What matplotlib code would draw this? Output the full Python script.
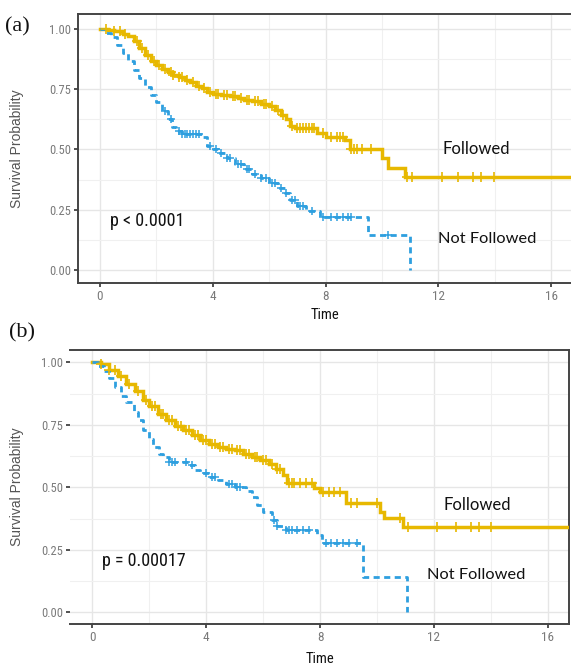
import numpy as np
import matplotlib
matplotlib.use("Agg")
import matplotlib.pyplot as plt
from matplotlib.ticker import MultipleLocator
from matplotlib import font_manager

GOLD = "#E7B800"
BLUE = "#2E9FDF"

# ---------------- data: panel (a) ----------------
a_fol_t = [0, 0.3, 0.5, 0.8, 1.0, 1.2, 1.4, 1.6, 1.8, 2.0, 2.2, 2.4, 2.6, 2.8, 3.0, 3.2, 3.4, 3.6,
           3.8, 4.0, 4.3, 4.6, 4.9, 5.1, 5.4, 5.7, 6.0, 6.2, 6.4, 6.6, 6.75, 6.9, 7.7, 8.03, 8.7,
           8.85, 10.0, 10.2, 10.83, 17.0]
a_fol_s = [1.0, 0.995, 0.99, 0.98, 0.97, 0.95, 0.92, 0.89, 0.865, 0.85, 0.835, 0.82, 0.81, 0.80,
           0.79, 0.78, 0.765, 0.755, 0.74, 0.73, 0.725, 0.72, 0.715, 0.705, 0.70, 0.69, 0.68, 0.665,
           0.645, 0.625, 0.598, 0.588, 0.567, 0.553, 0.539, 0.502, 0.463, 0.425, 0.385, 0.385]
a_fol_cens = [0.2, 0.5, 0.7, 0.9, 1.3, 1.5, 1.7, 1.9, 2.1, 2.3, 2.5, 2.6, 2.8, 2.9, 3.1, 3.3, 3.5,
              3.7, 3.9, 4.1, 4.2, 4.4, 4.5, 4.7, 4.8, 5.0, 5.2, 5.3, 5.5, 5.6, 5.8, 5.9, 6.1, 6.3,
              6.5, 6.8, 7.0, 7.1, 7.2, 7.3, 7.4, 7.5, 7.6, 7.9, 8.2, 8.4, 8.5, 8.6, 8.9, 9.0, 9.1,
              9.3, 9.6, 10.9, 11.07, 12.12, 12.7, 13.22, 13.52, 13.98]

a_not_t = [0, 0.2, 0.4, 0.6, 0.8, 1.0, 1.2, 1.4, 1.6, 1.8, 2.0, 2.2, 2.4, 2.55, 2.7, 2.9, 3.6, 3.8,
           4.0, 4.2, 4.5, 4.8, 5.1, 5.4, 5.7, 6.0, 6.3, 6.55, 6.75, 7.0, 7.3, 7.8, 9.5, 11.0]
a_not_s = [1.0, 0.985, 0.965, 0.935, 0.90, 0.865, 0.83, 0.795, 0.76, 0.726, 0.695, 0.66, 0.625,
           0.595, 0.575, 0.565, 0.55, 0.515, 0.50, 0.485, 0.465, 0.44, 0.42, 0.40, 0.38, 0.36,
           0.34, 0.32, 0.29, 0.265, 0.245, 0.221, 0.145, 0.0]
a_not_cens = [2.3, 2.5, 2.8, 2.9, 3.0, 3.1, 3.2, 3.3, 3.4, 3.5, 3.9, 4.1, 4.3, 4.5, 4.6, 4.9, 5.0,
              5.2, 5.3, 5.5, 5.7, 5.9, 6.1, 6.2, 6.4, 6.6, 6.8, 6.9, 7.1, 7.2, 7.5, 7.9, 8.2, 8.4,
              8.6, 8.8, 8.9, 10.2]

# ---------------- data: panel (b) ----------------
b_fol_t = [0, 0.3, 0.6, 0.9, 1.2, 1.5, 1.8, 2.0, 2.3, 2.6, 2.9, 3.2, 3.5, 3.8, 4.1, 4.4, 4.7, 5.0,
           5.3, 5.6, 5.9, 6.2, 6.45, 6.7, 6.85, 7.8, 8.0, 8.9, 10.1, 10.25, 10.9, 17.0]
b_fol_s = [1.0, 0.995, 0.97, 0.945, 0.915, 0.885, 0.85, 0.825, 0.795, 0.77, 0.745, 0.73, 0.71,
           0.69, 0.675, 0.663, 0.655, 0.648, 0.635, 0.622, 0.61, 0.595, 0.575, 0.548, 0.516,
           0.496, 0.483, 0.436, 0.40, 0.376, 0.34, 0.34]
b_fol_cens = [0.3, 0.6, 0.8, 1.0, 1.3, 1.6, 1.9, 2.1, 2.2, 2.4, 2.5, 2.7, 2.8, 3.0, 3.1, 3.3, 3.4,
              3.6, 3.7, 3.9, 4.0, 4.2, 4.3, 4.5, 4.6, 4.8, 4.9, 5.1, 5.2, 5.4, 5.5, 5.7, 5.8, 6.0,
              6.1, 6.3, 6.5, 6.6, 6.9, 7.0, 7.1, 7.3, 7.5, 7.7, 8.1, 8.3, 8.5, 8.7, 9.1, 9.3, 10.0,
              10.8, 11.1, 12.1, 12.76, 13.29, 13.58, 13.99]

b_not_t = [0, 0.2, 0.4, 0.6, 0.8, 1.0, 1.2, 1.45, 1.6, 1.8, 2.0, 2.15, 2.35, 2.5, 2.7, 3.4, 3.6,
           3.8, 4.1, 4.4, 4.7, 5.0, 5.4, 5.6, 5.8, 6.0, 6.3, 6.5, 6.8, 7.9, 8.08, 9.5, 11.06]
b_not_s = [1.0, 0.985, 0.965, 0.936, 0.90, 0.865, 0.84, 0.80, 0.77, 0.73, 0.695, 0.663, 0.635,
           0.62, 0.60, 0.59, 0.57, 0.556, 0.54, 0.53, 0.515, 0.50, 0.485, 0.46, 0.43, 0.40, 0.37,
           0.345, 0.33, 0.31, 0.276, 0.14, 0.0]
b_not_cens = [2.7, 2.8, 2.9, 3.3, 3.5, 4.0, 4.2, 4.3, 4.8, 4.9, 5.1, 5.2, 6.4, 6.5, 6.8, 6.9, 7.0,
              7.2, 7.4, 7.6, 8.2, 8.4, 8.6, 8.8, 9.0, 9.3]

x_ticks = [0, 4, 8, 12, 16]
y_ticks = [0.0, 0.25, 0.5, 0.75, 1.0]
y_ticklabels = ["0.00", "0.25", "0.50", "0.75", "1.00"]

_installed = {f.name for f in font_manager.fontManager.ttflist}
NARROW = [f for f in ["Roboto Condensed", "Liberation Sans Narrow", "Open Sans Condensed",
                      "Liberation Sans", "DejaVu Sans"] if f in _installed]
CAL = ["Lato", "DejaVu Sans"]

W, H = 571, 668


def step_value(times, surv, t):
    times = np.asarray(times)
    surv = np.asarray(surv)
    idx = np.searchsorted(times, t, side="right") - 1
    return surv[idx]


def draw_panel(ax, fol_t, fol_s, fol_c, not_t, not_s, not_c, ptext, ptxt_xy,
               fol_xy, not_xy, ylim, spines_on, xlabelpad, ylabel_x):
    ax.set_facecolor("white")
    ax.xaxis.set_minor_locator(MultipleLocator(2))
    ax.yaxis.set_minor_locator(MultipleLocator(0.125))
    ax.grid(which="major", color="#E6E6E6", lw=1.0, zorder=0)
    ax.grid(which="minor", color="#F0F0F0", lw=0.8, zorder=0)
    ax.tick_params(which="minor", length=0)

    ax.plot(fol_t, fol_s, drawstyle="steps-post", color=GOLD, lw=2.5, zorder=3,
            solid_joinstyle="miter")
    ax.plot(not_t, not_s, drawstyle="steps-post", color=BLUE, lw=2.0,
            linestyle=(0, (2.2, 1.6)), zorder=3)
    ax.plot(fol_c, step_value(fol_t, fol_s, fol_c), "+", color=GOLD, ms=6.5, mew=1.2, zorder=4)
    ax.plot(not_c, step_value(not_t, not_s, not_c), "+", color=BLUE, ms=6, mew=1.1, zorder=4)

    ax.set_xlim(-0.78, 16.74)
    ax.set_ylim(*ylim)
    ax.set_xticks(x_ticks)
    ax.set_xticklabels([str(v) for v in x_ticks], family=NARROW, fontsize=9.5, color="#7A7A7A")
    ax.set_yticks(y_ticks)
    ax.set_yticklabels(y_ticklabels, family=NARROW, fontsize=9, color="#7A7A7A")
    ax.tick_params(which="major", length=3, width=1.2, color="#333333", pad=2)

    for side, on in spines_on.items():
        ax.spines[side].set_visible(on)
        ax.spines[side].set_color("#444444")
        ax.spines[side].set_linewidth(1.4)

    ax.set_xlabel("Time", family=NARROW, fontsize=10.5, color="#111111", labelpad=xlabelpad)
    ax.set_ylabel("Survival Probability", family=["Liberation Sans", "DejaVu Sans"],
                  fontsize=10, color="#555555")
    bb = ax.get_position()
    ax.yaxis.set_label_coords((ylabel_x / W - bb.x0) / bb.width, 0.5)

    ax.text(*ptxt_xy, ptext, family=NARROW, fontsize=13, color="#111111",
            ha="left", va="center")
    ax.text(*fol_xy, "Followed", family=CAL, fontsize=12, color="#111111",
            ha="left", va="center")
    ax.text(*not_xy, "Not Followed", family=CAL, fontsize=11.8, color="#111111",
            ha="left", va="center")


fig = plt.figure(figsize=(W / 100, H / 100), dpi=100)
fig.patch.set_facecolor("white")

# panel (a)
ax_a = fig.add_axes([78 / W, 1 - 283 / H, (571 - 78) / W, (283 - 14) / H])
draw_panel(ax_a, a_fol_t, a_fol_s, a_fol_cens, a_not_t, a_not_s, a_not_cens,
           "p < 0.0001", (0.35, 0.205), (12.15, 0.50), (12.0, 0.13), (-0.054, 1.062),
           {"left": True, "bottom": True, "top": True, "right": False}, 4, 24)
ax_a.set_xlim(-0.78, 16.7)

# panel (b)
ax_b = fig.add_axes([70 / W, 1 - 624 / H, (569 - 70) / W, (624 - 350) / H])
draw_panel(ax_b, b_fol_t, b_fol_s, b_fol_cens, b_not_t, b_not_s, b_not_cens,
           "p = 0.00017", (0.34, 0.206), (12.35, 0.43), (11.77, 0.15), (-0.047, 1.049),
           {"left": False, "bottom": True, "top": True, "right": True}, 6, 24)

fig.text(5 / W, 1 - 27 / H, "(a)", family=["Liberation Serif", "DejaVu Serif"], fontsize=16,
         ha="left", va="center", color="#111111")
fig.text(9 / W, 1 - 333 / H, "(b)", family=["Liberation Serif", "DejaVu Serif"], fontsize=16,
         ha="left", va="center", color="#111111")

fig.savefig("out.png", dpi=100, facecolor="white")
